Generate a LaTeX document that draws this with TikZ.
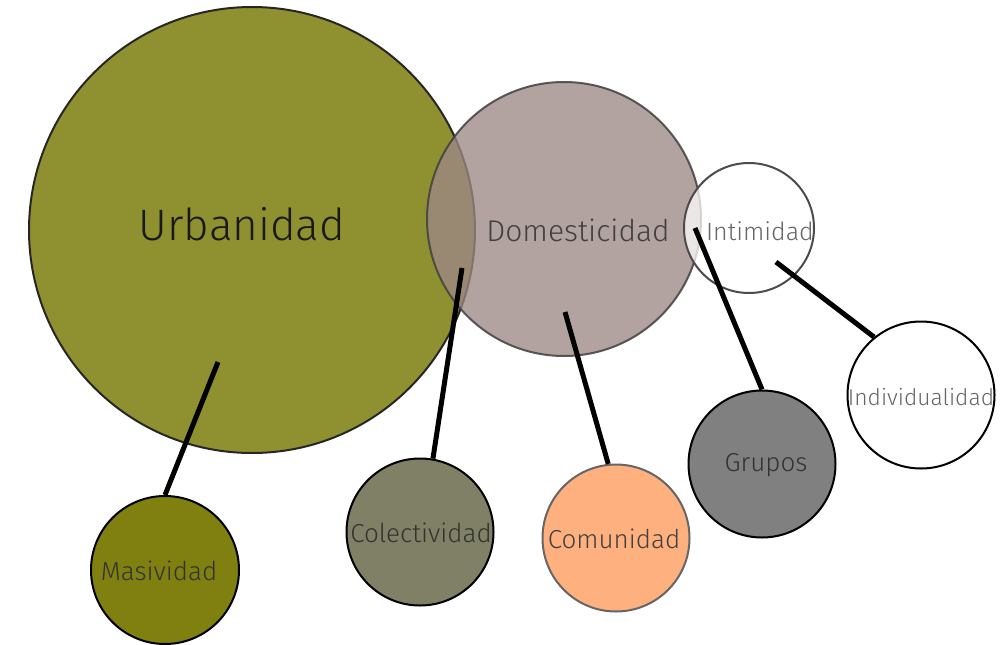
\documentclass[tikz,border=0pt]{standalone}
\usepackage{fontspec}
\setmainfont{Fira Sans}[UprightFont=* Light]
\definecolor{urb}{RGB}{143,145,48}
\definecolor{dom}{RGB}{156,136,133}
\definecolor{mas}{RGB}{128,128,16}
\definecolor{col}{RGB}{128,128,102}
\definecolor{com}{RGB}{255,176,127}
\definecolor{gru}{RGB}{128,128,128}
\tikzset{
  bubble/.style={circle, draw, line width=2pt, inner sep=0pt},
  lbl/.style={inner sep=0pt, font=\fontsize{26}{28}\selectfont},
  conn/.style={line width=5pt, black},
}
\begin{document}
\begin{tikzpicture}[x=1pt,y=-1pt]
\useasboundingbox (0,0) rectangle (1001,645);
% big circles
\node[bubble, fill=urb, draw=black!85, minimum size=446pt] (urb) at (252,230) {};
\node[bubble, fill=dom, fill opacity=0.78, draw=black!75, draw opacity=0.85, minimum size=274pt] (dom) at (564,219) {};
\node[bubble, fill=white, fill opacity=0.75, draw=black!70, minimum size=130pt] (int) at (749,228) {};
% small circles
\node[bubble, fill=mas, draw=black, minimum size=148pt] (mas) at (165,570) {};
\node[bubble, fill=col, draw=black, minimum size=147pt] (col) at (420,532) {};
\node[bubble, fill=com, draw=black!60, minimum size=147pt] (com) at (616,538) {};
\node[bubble, fill=gru, draw=black, minimum size=147pt] (gru) at (762,464) {};
\node[bubble, fill=white, draw=black, minimum size=147pt] (ind) at (921,395) {};
% labels
\node[inner sep=0pt, font=\fontsize{44}{48}\selectfont, text=black!90] (tUrb) at (242,224) {Urbanidad};
\node[lbl, font=\fontsize{30}{32}\selectfont, text=black!75] (tDom) at (578,230) {Domesticidad};
\node[lbl, font=\fontsize{25}{28}\selectfont, text=black!60] (tInt) at (760,231) {Intimidad};
\node[lbl, text=black!80] (tMas) at (159,571) {Masividad};
\node[lbl, text=black!80] (tCol) at (421,533) {Colectividad};
\node[lbl, text=black!75] (tCom) at (614,539) {Comunidad};
\node[lbl, text=black!80] (tGru) at (766,465) {Grupos};
\node[lbl, font=\fontsize{22.8}{25}\selectfont, text=black!60] (tInd) at (921,397) {Individualidad};
% connector anchors
\coordinate (sMas) at (218,362);
\coordinate (sCol) at (462,268);
\coordinate (sCom) at (565,312);
\coordinate (sGru) at (695,228);
\coordinate (sInd) at (776,262);
\draw[conn] (sMas) -- (mas.north);
\draw[conn] (sCol) -- (col.80);
\draw[conn] (sCom) -- (com.96);
\draw[conn] (sGru) -- (gru.north);
\draw[conn] (sInd) -- (ind.129);
\end{tikzpicture}
\end{document}
